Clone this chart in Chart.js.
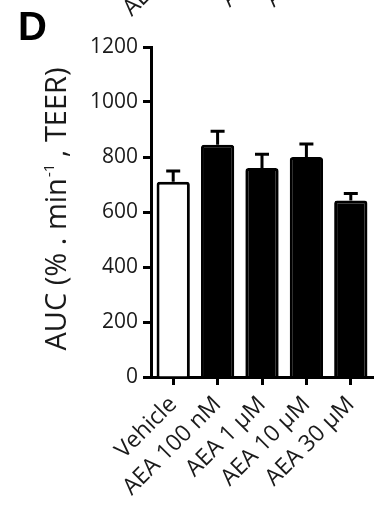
<!DOCTYPE html>
<html>
<head>
<meta charset="utf-8">
<style>
  html, body { margin: 0; padding: 0; background: #fff; }
  #wrap { width: 382px; height: 517px; }
</style>
<script src="https://cdn.jsdelivr.net/npm/chart.js@4"></script>
</head>
<body>
<div id="wrap"><canvas id="c" width="382" height="517"></canvas></div>
<script>
// Treatment groups and their mean AUC with SEM (upper whisker only)
const categories = ['Vehicle', 'AEA 100 nM', 'AEA 1 µM', 'AEA 10 µM', 'AEA 30 µM'];
const meanAUC = [710, 845, 760, 800, 642];
const semAUC = [39, 49, 50, 47, 25];
const barFills = ['#ffffff', '#000000', '#000000', '#000000', '#000000'];
const yTickValues = [0, 200, 400, 600, 800, 1000, 1200];

// Panel texts
const panelLetter = 'D';
const yTitleMain = 'AUC (% . min';
const yTitleSup = '-1';
const yTitleTail = ' , TEER)';

const FONT = '"Open Sans", "DejaVu Sans", sans-serif';
const INK = '#1a1a1a';

// Upper SEM whiskers with caps
const errorBars = {
  id: 'errorBars',
  afterDatasetsDraw(chart) {
    const ctx = chart.ctx;
    const yScale = chart.scales.y;
    const meta = chart.getDatasetMeta(0);
    ctx.save();
    ctx.strokeStyle = '#000';
    ctx.lineWidth = 3;
    ctx.lineCap = 'butt';
    meta.data.forEach((bar, i) => {
      const x = bar.x;
      const yTop = yScale.getPixelForValue(meanAUC[i] + semAUC[i]);
      ctx.beginPath();
      ctx.moveTo(x, bar.y);
      ctx.lineTo(x, yTop);
      ctx.moveTo(x - 7, yTop);
      ctx.lineTo(x + 7, yTop);
      ctx.stroke();
    });
    ctx.restore();
  }
};

// Panel letter, rotated y title with superscript, and the tails of the
// category labels belonging to the panel above
const decorations = {
  id: 'decorations',
  afterDraw(chart) {
    const ctx = chart.ctx;
    ctx.save();

    // panel letter
    ctx.fillStyle = '#000';
    ctx.font = 'bold 40px "Liberation Sans", Arial, sans-serif';
    ctx.textAlign = 'left';
    ctx.textBaseline = 'alphabetic';
    ctx.fillText(panelLetter, 18, 40);

    // y axis title, reading bottom to top
    const mainFont = '29px ' + FONT;
    const supFont = '15px ' + FONT;
    ctx.font = mainFont;
    const wMain = ctx.measureText(yTitleMain).width;
    const wTail = ctx.measureText(yTitleTail).width;
    ctx.font = supFont;
    const wSup = ctx.measureText(yTitleSup).width;
    const total = wMain + wSup + wTail;
    const centerY = 209;
    ctx.translate(66, centerY + total / 2);
    ctx.rotate(-Math.PI / 2);
    ctx.fillStyle = INK;
    ctx.textAlign = 'left';
    ctx.textBaseline = 'alphabetic';
    ctx.font = mainFont;
    ctx.fillText(yTitleMain, 0, 0);
    ctx.font = supFont;
    ctx.fillText(yTitleSup, wMain + 1, -12);
    ctx.font = mainFont;
    ctx.fillText(yTitleTail, wMain + wSup, 0);
    ctx.restore();

    // category labels of the panel stacked above, cut by the top edge
    const items = chart.scales.x.getLabelItems();
    ctx.save();
    items.forEach(item => {
      const o = item.options;
      ctx.save();
      ctx.translate(o.translation[0], o.translation[1] - 479);
      ctx.rotate(o.rotation);
      ctx.font = item.font.string;
      ctx.fillStyle = INK;
      ctx.textAlign = o.textAlign;
      ctx.textBaseline = o.textBaseline;
      ctx.fillText(item.label, 0, item.textOffset);
      ctx.restore();
    });
    ctx.restore();
  }
};

new Chart(document.getElementById('c'), {
  type: 'bar',
  data: {
    labels: categories,
    datasets: [{
      data: meanAUC,
      backgroundColor: barFills,
      borderColor: '#000',
      borderWidth: 3,
      borderSkipped: 'bottom',
      borderRadius: { topLeft: 3, topRight: 3 },
      barPercentage: 0.75,
      categoryPercentage: 1.0
    }]
  },
  options: {
    responsive: false,
    animation: false,
    devicePixelRatio: 1,
    layout: { padding: { top: 47, right: 9, left: 0, bottom: 0 } },
    plugins: { legend: { display: false }, tooltip: { enabled: false } },
    scales: {
      x: {
        offset: true,
        grid: { display: true, offset: false, drawOnChartArea: false, drawTicks: true,
                tickLength: 8, tickWidth: 3, tickColor: '#000' },
        border: { display: true, width: 3, color: '#000' },
        ticks: { autoSkip: false, minRotation: 45, maxRotation: 45, padding: 6,
                 color: INK, font: { family: FONT, size: 23 } },
        afterFit(scale) { scale.height = 140; }
      },
      y: {
        min: 0, max: 1200,
        afterBuildTicks(scale) { scale.ticks = yTickValues.map(v => ({ value: v })); },
        grid: { display: true, drawOnChartArea: false, drawTicks: true,
                tickLength: 8, tickWidth: 3, tickColor: '#000' },
        border: { display: true, width: 3, color: '#000' },
        ticks: { padding: 5, color: INK, font: { family: FONT, size: 21 },
                 callback: v => String(v) },
        afterFit(scale) { scale.width = 151; }
      }
    }
  },
  plugins: [errorBars, decorations]
});
</script>
</body>
</html>
